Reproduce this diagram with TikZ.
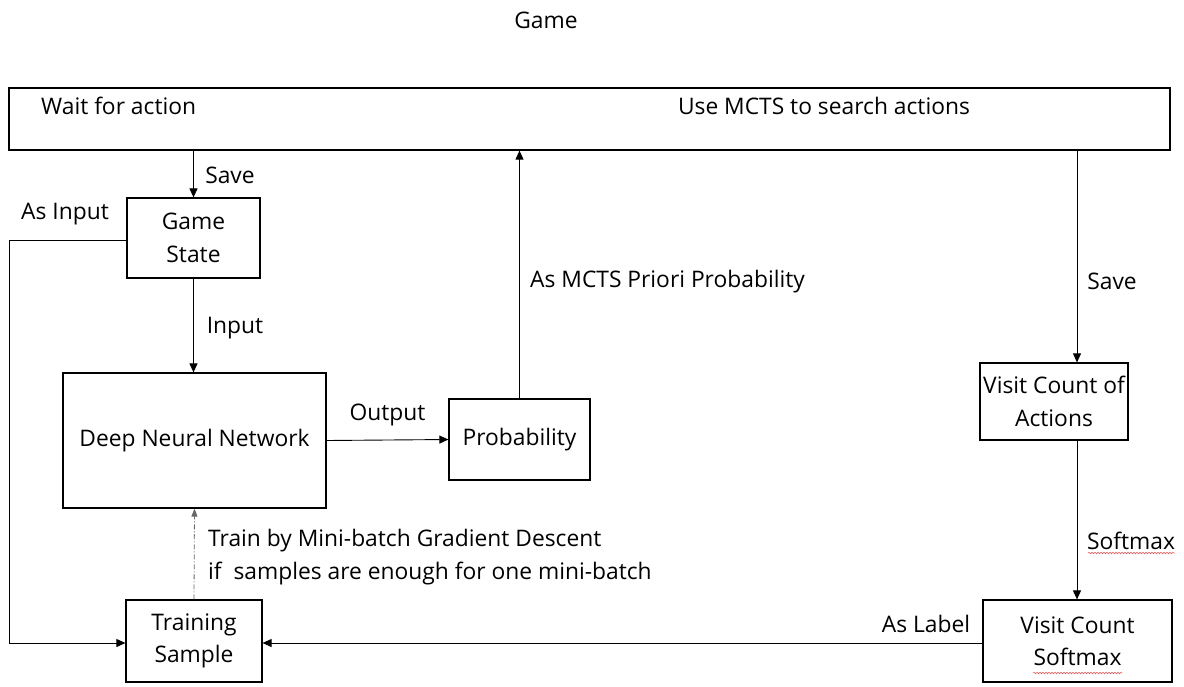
\documentclass[tikz,border=0pt]{standalone}
\usepackage{fontspec}
\setmainfont{Open Sans}
\usetikzlibrary{arrows.meta,decorations.pathmorphing}
\begin{document}
\begin{tikzpicture}[x=1pt,y=-1pt,
  box/.style={draw,line width=1.2pt,inner sep=0pt},
  lbl/.style={font=\fontsize{22.8}{32.5}\selectfont,align=center,inner sep=0pt},
  conn/.style={line width=0.9pt,-{Triangle[length=9pt,width=8pt]}},
  spell/.style={red!70,line width=0.5pt,decorate,decoration={snake,amplitude=0.8pt,segment length=3pt}}]
\useasboundingbox (0,0) rectangle (1184,686);
\node[lbl] (title) at (546,20) {Game};
% boxes
\node[box,minimum width=1161pt,minimum height=62pt] (game) at (589.5,119) {};
\node[lbl,anchor=west] (wait) at (41,106) {Wait for action};
\node[lbl] (mcts) at (824,106) {Use MCTS to search actions};
\node[box,lbl,minimum width=133pt,minimum height=80pt] (gs) at (193.5,238) {Game\\State};
\node[box,lbl,minimum width=263pt,minimum height=135pt] (dnn) at (194.5,440.5) {Deep Neural Network};
\node[box,lbl,minimum width=141pt,minimum height=81pt] (prob) at (519.5,439.5) {Probability};
\node[box,lbl,minimum width=148pt,minimum height=77pt] (vca) at (1054,401.5) {Visit Count of\\Actions};
\node[box,lbl,minimum width=189pt,minimum height=82pt] (vcs) at (1077.5,641) {Visit Count\\Softmax};
\node[box,lbl,minimum width=136pt,minimum height=82pt] (ts) at (194,641) {Training\\Sample};
% connectors
\draw[conn] (game.south -| gs) -- (gs.north);
\node[lbl] (save1) at (230,175) {Save};
\draw[conn] (gs.south) -- (gs.south |- dnn.north);
\node[lbl] (inp) at (235,328) {Input};
\coordinate (lc1) at (9,240);
\coordinate (lc2) at (9,643);
\draw[conn] (gs.west |- lc1) -- (lc1) -- (lc2) -- (ts.west |- lc2);
\node[lbl] (asin) at (65,214) {As Input};
\draw[conn] (dnn.east) -- node[lbl,above=14pt] {Output} (prob.west);
\draw[conn] (prob.north) -- (prob.north |- game.south);
\node[lbl,anchor=west] (prior) at (530,282) {As MCTS Priori Probability};
\coordinate (vx) at (1077,150);
\draw[conn] (vx) -- (vx |- vca.north);
\node[lbl] (save2) at (1112,281) {Save};
\draw[conn] (vx |- vca.south) -- (vx |- vcs.north);
\node[lbl] (smx) at (1131,541) {Softmax};
\draw[spell] (1088,553) -- (1175,553);
\draw[spell] (1033,673) -- (1122,673);
\coordinate (ly) at (0,643);
\draw[conn] (vcs.west |- ly) -- (ts.east |- ly);
\node[lbl] (aslab) at (926,624) {As Label};
\draw[line width=0.8pt,gray!80!black,dash pattern=on 5pt off 2pt on 1pt off 2pt,-{Triangle[length=8pt,width=6pt]}] (ts.north) -- (dnn.south);
\node[lbl,anchor=west,align=left] (train) at (208,557) {Train by Mini-batch Gradient Descent\\if\ \ samples are enough for one mini-batch};
\end{tikzpicture}
\end{document}
